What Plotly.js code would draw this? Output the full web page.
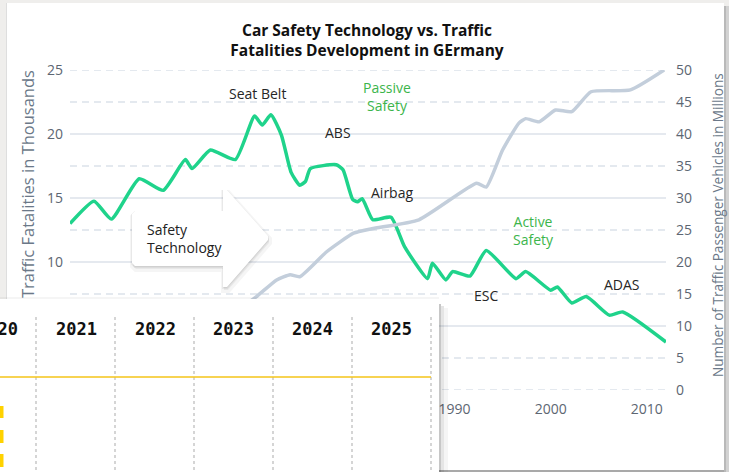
<!DOCTYPE html>
<html>
<head>
<meta charset="utf-8">
<script src="https://cdn.plot.ly/plotly-3.0.1.min.js"></script>
<style>html,body{margin:0;padding:0;background:#efeeec;}#chart{width:729px;height:472px;}</style>
</head>
<body>
<div id="chart"></div>
<script>
// ---- data ----
const fatalityYears = [1950.0,1952.5,1954.3,1957.2,1959.7,1962.0,1962.7,1964.6,1967.2,1969.2,1970.0,1970.9,1972.0,1973.0,1973.9,1974.5,1975.0,1977.7,1978.4,1979.4,1979.9,1980.4,1981.5,1983.4,1984.8,1987.2,1987.7,1989.1,1989.8,1991.6,1993.3,1996.4,1997.4,2000.0,2000.7,2002.2,2003.7,2006.1,2007.5,2012.0];
const fatalities    = [13.0,14.75,13.35,16.5,15.6,18.0,17.3,18.75,18.0,21.4,20.7,21.5,19.9,17.0,16.0,16.3,17.3,17.6,17.2,14.9,14.7,14.95,13.3,13.5,11.2,8.7,9.9,8.6,9.25,8.9,10.9,8.7,9.25,7.8,8.05,6.8,7.3,5.85,6.1,3.75];

const vehicleYears  = [1966.5,1969.4,1971.5,1972.9,1973.9,1976.7,1979.5,1981.4,1986.3,1992.3,1993.3,1995.0,1996.7,1997.4,1998.8,2000.5,2002.2,2004.2,2008.3,2011.8];
const vehicles      = [11.5,14.6,17.2,18.0,17.7,21.6,24.5,25.2,26.6,32.3,31.7,37.5,41.7,42.4,41.9,43.75,43.5,46.6,46.9,50.0];

const xTickYears    = [1950,1960,1970,1980,1990,2000,2010];
const leftTicks     = [10,15,20,25];
const rightTicks    = [0,5,10,15,20,25,30,35,40,45,50];
const solidGridRight = [10,20,30,40];
const dashedGridRight = [0,5,15,25,35,45,50];

const techLabels    = ['Seat Belt','ABS','Airbag','ESC','ADAS'];
const phaseLabels   = ['Passive<br>Safety','Active<br>Safety'];
const arrowLabel    = 'Safety<br>Technology';
const panelYears    = ['2020','2021','2022','2023','2024','2025'];

// ---- layout helpers (pixel -> paper) ----
const W=729,H=472,L=70,R=666,T=70,B=390;
const fx = p => (p-L)/(R-L);
const fy = p => (B-p)/(B-T);

const txt = '#5d6672';
const titleCol = '#6b7888';
const green = '#1fd38b';
const grey = '#c3cedb';
const gridCol = '#dce2ea';

const shapes = [];
// card background + frame
shapes.push({type:'rect',xref:'paper',yref:'paper',x0:fx(6),x1:fx(7),y0:fy(470),y1:fy(3),fillcolor:'#dedede',line:{width:0},layer:'below'});
shapes.push({type:'rect',xref:'paper',yref:'paper',x0:fx(7),x1:fx(724),y0:fy(470),y1:fy(3),fillcolor:'#ffffff',line:{width:0},layer:'below'});
shapes.push({type:'rect',xref:'paper',yref:'paper',x0:fx(724),x1:fx(726),y0:fy(472),y1:fy(6),fillcolor:'#b9b9b9',line:{width:0},layer:'below'});
shapes.push({type:'rect',xref:'paper',yref:'paper',x0:fx(726),x1:fx(729),y0:fy(472),y1:fy(6),fillcolor:'#d2d2d2',line:{width:0},layer:'below'});
shapes.push({type:'rect',xref:'paper',yref:'paper',x0:fx(10),x1:fx(724),y0:fy(472),y1:fy(470),fillcolor:'#a9a9a9',line:{width:0},layer:'below'});
// gridlines
solidGridRight.forEach(v=>shapes.push({type:'line',xref:'paper',yref:'y2',x0:0,x1:1,y0:v,y1:v,line:{color:gridCol,width:1.5},layer:'below'}));
dashedGridRight.forEach(v=>shapes.push({type:'line',xref:'paper',yref:'y2',x0:0,x1:1,y0:v,y1:v,line:{color:gridCol,width:1.5,dash:'7px,5px'},layer:'below'}));

// arrow "Safety Technology"
function pathFrom(pts, dx, dy){
  return 'M ' + pts.map(p=>fx(p[0]+dx)+','+fy(p[1]+dy)).join(' L ') + ' Z';
}
const arrowPts = [[135,211],[223,211],[223,190],[227,190],[268,236],[268,240],[227,287],[223,287],[223,266],[135,266],[132,263],[132,214]];
shapes.push({type:'path',xref:'paper',yref:'paper',path:pathFrom(arrowPts,1,3),fillcolor:'rgba(0,0,0,0.05)',line:{color:'rgba(0,0,0,0.04)',width:6},layer:'above'});
shapes.push({type:'path',xref:'paper',yref:'paper',path:pathFrom(arrowPts,0,1),fillcolor:'rgba(0,0,0,0.05)',line:{color:'rgba(0,0,0,0.05)',width:2},layer:'above'});
shapes.push({type:'path',xref:'paper',yref:'paper',path:pathFrom(arrowPts,0,0),fillcolor:'#ffffff',line:{width:0},layer:'above'});

// overlay panel
shapes.push({type:'rect',xref:'paper',yref:'paper',x0:fx(439),x1:fx(441),y0:fy(472),y1:fy(304),fillcolor:'rgba(0,0,0,0.22)',line:{width:0},layer:'above'});
shapes.push({type:'rect',xref:'paper',yref:'paper',x0:fx(441),x1:fx(444),y0:fy(472),y1:fy(306),fillcolor:'rgba(0,0,0,0.10)',line:{width:0},layer:'above'});
shapes.push({type:'rect',xref:'paper',yref:'paper',x0:fx(444),x1:fx(448),y0:fy(472),y1:fy(308),fillcolor:'rgba(0,0,0,0.04)',line:{width:0},layer:'above'});
shapes.push({type:'rect',xref:'paper',yref:'paper',x0:fx(0),x1:fx(439),y0:fy(300),y1:fy(297),fillcolor:'rgba(0,0,0,0.04)',line:{width:0},layer:'above'});
shapes.push({type:'rect',xref:'paper',yref:'paper',x0:fx(-2),x1:fx(439),y0:fy(474),y1:fy(299),fillcolor:'#ffffff',line:{width:0},layer:'above'});
const dashX = [36,115,194,273,352,431];
dashX.forEach(x=>shapes.push({type:'line',xref:'paper',yref:'paper',x0:fx(x),x1:fx(x),y0:fy(317),y1:fy(474),line:{color:'#ababab',width:1,dash:'3px,3px'},layer:'above'}));
shapes.push({type:'line',xref:'paper',yref:'paper',x0:fx(-2),x1:fx(431),y0:fy(377),y1:fy(377),line:{color:'#f5c518',width:1.5},layer:'above'});
[[406,418],[430,443],[454,467]].forEach(r=>shapes.push({type:'rect',xref:'paper',yref:'paper',x0:fx(-2),x1:fx(3.5),y0:fy(r[1]),y1:fy(r[0]),fillcolor:'#ffd200',line:{width:0},layer:'above'}));

const annotations = [];
const techPos = [[257,93],[338,132],[392,192],[486,295],[622,284]];
techLabels.forEach((t,i)=>annotations.push({text:t,xref:'paper',yref:'paper',x:fx(techPos[i][0]),y:fy(techPos[i][1]),showarrow:false,xanchor:'center',yanchor:'middle',font:{family:'Open Sans',size:14,color:'#262626'}}));
const phasePos = [[387,96],[533,230]];
phaseLabels.forEach((t,i)=>annotations.push({text:t,xref:'paper',yref:'paper',x:fx(phasePos[i][0]),y:fy(phasePos[i][1]),showarrow:false,xanchor:'center',yanchor:'middle',align:'center',font:{family:'Open Sans',size:14,color:'#3cb54b'}}));
annotations.push({text:arrowLabel,xref:'paper',yref:'paper',x:fx(145),y:fy(238),showarrow:false,xanchor:'left',yanchor:'middle',align:'left',font:{family:'Open Sans',size:14,color:'#222222'}});
// axis titles
annotations.push({text:'Traffic Fatalities in Thousands',xref:'paper',yref:'paper',x:fx(27),y:fy(184),textangle:-90,showarrow:false,xanchor:'center',yanchor:'middle',font:{family:'Open Sans',size:16.5,color:titleCol}});
annotations.push({text:'Number of Traffic Passenger Vehicles in Millions',xref:'paper',yref:'paper',x:fx(717),y:fy(225),textangle:-90,showarrow:false,xanchor:'center',yanchor:'middle',font:{family:'Open Sans',size:13.6,color:titleCol}});
// panel year labels
const panelX = [-3,76,155,233,312,391];
panelYears.forEach((t,i)=>annotations.push({text:'<b>'+t+'</b>',xref:'paper',yref:'paper',x:fx(panelX[i]),y:fy(329),showarrow:false,xanchor:'center',yanchor:'middle',font:{family:'DejaVu Sans Mono',size:17,color:'#111111'}}));

const traces = [
  {x:vehicleYears,y:vehicles,yaxis:'y2',type:'scatter',mode:'lines',line:{color:grey,width:3.5,shape:'spline',smoothing:0.5},hoverinfo:'skip'},
  {x:fatalityYears,y:fatalities,type:'scatter',mode:'lines',line:{color:green,width:3.5,shape:'spline',smoothing:0.5},hoverinfo:'skip'}
];

const layout = {
  width:W,height:H,
  margin:{l:L,r:W-R,t:T,b:H-B,pad:0},
  paper_bgcolor:'#efeeec',plot_bgcolor:'rgba(0,0,0,0)',
  showlegend:false,
  title:{text:'<b>Car Safety Technology vs. Traffic<br>Fatalities Development in GErmany</b>',x:367/W,xanchor:'center',y:1-36/H,yanchor:'middle',yref:'container',font:{family:'Open Sans, sans-serif',size:15.5,color:'#111111'}},
  xaxis:{range:[1950,2012],tickvals:xTickYears,showgrid:false,zeroline:false,showline:false,ticks:'',ticklabelstandoff:9,tickfont:{family:'Open Sans',size:14,color:txt},fixedrange:true},
  yaxis:{range:[0,25],tickvals:leftTicks,showgrid:false,zeroline:false,showline:false,ticks:'',ticklabelstandoff:6,tickfont:{family:'Open Sans',size:14,color:txt},fixedrange:true},
  yaxis2:{range:[0,50],tickvals:rightTicks,overlaying:'y',side:'right',showgrid:false,zeroline:false,showline:false,ticks:'',ticklabelstandoff:9,tickfont:{family:'Open Sans',size:14,color:txt},fixedrange:true},
  shapes:shapes,
  annotations:annotations
};
Plotly.newPlot('chart',traces,layout,{displayModeBar:false,staticPlot:true});
</script>
</body>
</html>
